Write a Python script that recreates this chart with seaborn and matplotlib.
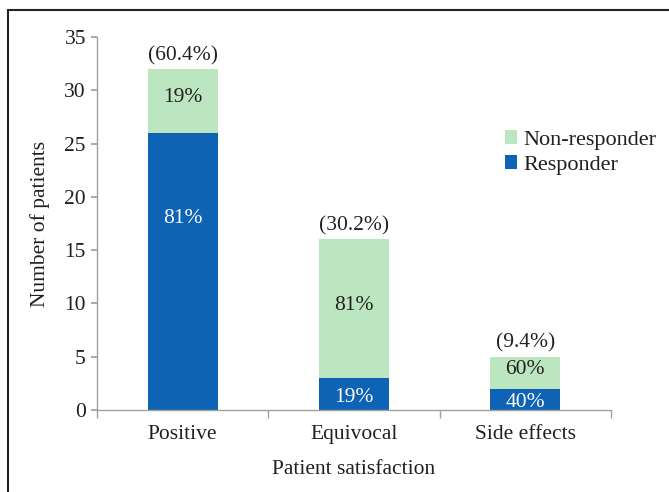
import matplotlib
matplotlib.use("Agg")
import matplotlib.pyplot as plt
import seaborn as sns
import pandas as pd
from matplotlib.patches import Rectangle, Patch

categories = ["Positive", "Equivocal", "Side effects"]
responder = [26, 3, 2]
non_responder = [6, 13, 3]
resp_pct = ["81%", "19%", "40%"]
nonresp_pct = ["19%", "81%", "60%"]
total_pct = ["(60.4%)", "(30.2%)", "(9.4%)"]
yticks = [0, 5, 10, 15, 20, 25, 30, 35]

BLUE = "#0F63B5"
GREEN = "#BBE6BF"
TXT = "#231F20"

sns.set_theme(style="white")
plt.rcParams["font.family"] = ["Liberation Serif", "DejaVu Serif"]

totals = [r + n for r, n in zip(responder, non_responder)]
df = pd.DataFrame({"cat": categories, "resp": responder, "total": totals})

fig = plt.figure(figsize=(6.69, 4.92), dpi=100)
ax = fig.add_axes([0.145, 0.1667, 0.768, 0.758])

sns.barplot(data=df, x="cat", y="total", color=GREEN, width=0.41, ax=ax,
            saturation=1, edgecolor="none")
sns.barplot(data=df, x="cat", y="resp", color=BLUE, width=0.41, ax=ax,
            saturation=1, edgecolor="none")

fs = 15.5
for i in range(len(categories)):
    r = responder[i]
    t = totals[i]
    ry = 18 if r > 20 else r / 2 - 0.3
    ax.text(i, ry, resp_pct[i], ha="center", va="center", color="white", fontsize=fs)
    ny = r + non_responder[i] / 2 + 0.3
    ax.text(i, ny, nonresp_pct[i], ha="center", va="center", color=TXT, fontsize=fs)
    ax.text(i, t + 0.35, total_pct[i], ha="center", va="bottom", color=TXT, fontsize=fs)

ax.set_ylim(0, 35)
ax.set_xlim(-0.5, 2.5)
ax.set_yticks(yticks)
ax.set_yticklabels([str(v) for v in yticks], fontsize=fs, color=TXT)
ax.set_xticks(range(len(categories)))
ax.set_xticklabels(categories, fontsize=fs, color=TXT)
ax.set_xticks([-0.5, 0.5, 1.5, 2.5], minor=True)
ax.tick_params(axis="x", which="major", length=0, pad=11)
ax.tick_params(axis="x", which="minor", length=6, color="#A0A0A0", direction="out", bottom=True)
ax.tick_params(axis="y", length=4, color="#A0A0A0", direction="out", left=True, pad=4)
for s in ["top", "right"]:
    ax.spines[s].set_visible(False)
for s in ["left", "bottom"]:
    ax.spines[s].set_color("#A0A0A0")
    ax.spines[s].set_linewidth(1.0)

ax.set_xlabel("Patient satisfaction", fontsize=fs, color=TXT, labelpad=11)
ax.set_ylabel("Number of patients", fontsize=fs, color=TXT, labelpad=10)

handles = [Patch(facecolor=GREEN, edgecolor="none", label="Non-responder"),
           Patch(facecolor=BLUE, edgecolor="none", label="Responder")]
fig.legend(handles=handles, loc="upper left", bbox_to_anchor=(0.738, 0.758),
           frameon=False, fontsize=16, handlelength=0.55, handleheight=0.55,
           handletextpad=0.3, labelspacing=0.25, labelcolor=TXT, borderpad=0)

fig.patches.append(Rectangle((8 / 669, -0.1), 1.2, 1 - 10 / 492 + 0.1,
                             transform=fig.transFigure, fill=False,
                             edgecolor="#222222", linewidth=1.5))

fig.savefig("out.png", dpi=100)
